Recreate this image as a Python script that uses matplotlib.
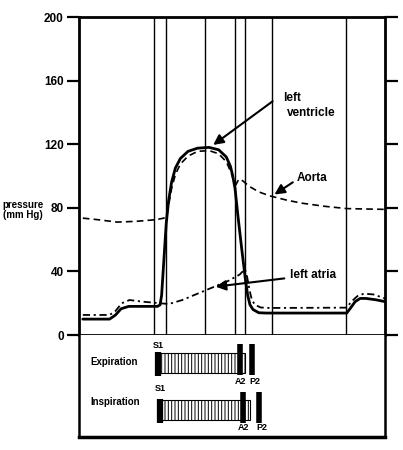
import numpy as np
import matplotlib
matplotlib.use("Agg")
from matplotlib import pyplot as plt
from matplotlib.patches import Rectangle

plt.rcParams['font.family'] = ['Liberation Sans', 'DejaVu Sans']
plt.rcParams['font.weight'] = 'bold'

# time axis (ms) over one cardiac cycle, pressures in mm Hg
lv_t = [10, 80, 95, 110, 130, 205, 212, 216, 220, 224, 228, 234, 242, 252, 265, 285,
        310, 340, 365, 385, 396, 402, 408, 415, 425, 435, 441, 447, 455, 470, 490,
        700, 710, 722, 735, 750, 775, 800]
lv_p = [10, 10, 12.5, 16.5, 18, 18, 19, 25, 40, 55, 70, 84, 96, 105, 111, 115.5,
        117.5, 118, 116.5, 112, 106, 100, 92, 76, 55, 35, 25, 19, 16, 14, 13.8,
        13.8, 17, 21, 23, 23, 22.2, 21]

ao_t = [10, 50, 100, 150, 200, 222, 230, 236, 242, 252, 265, 285, 310, 340, 365,
        385, 398, 405, 410, 418, 428, 445, 470, 499, 540, 580, 640, 700, 800]
ao_p = [73.5, 72.5, 71, 71.5, 72.5, 73.5, 76, 84, 92, 101, 107.5, 112.5, 115.5, 116,
        114, 109, 102, 96.5, 94.5, 98, 97, 93.5, 90, 87.5, 85, 83, 81, 79.5, 79]

la_t = [10, 80, 95, 112, 132, 165, 210, 235, 270, 310, 350, 390, 420, 434, 440,
        446, 452, 460, 475, 500, 700, 712, 728, 745, 770, 800]
la_p = [12.6, 12.6, 15, 20, 22, 21, 20, 19.5, 22, 26, 30, 34, 38, 41.5, 36,
        28, 22, 19, 17.3, 17, 17.2, 21, 24.5, 26, 25.5, 23]

# vertical event lines (ms)
events = [196, 227, 329, 408, 434, 505, 698]

# heart sounds (ms): expiration / inspiration
exp_s1, exp_a2, exp_p2, exp_end = 207, 421, 452, 434
insp_s1, insp_a2, insp_p2, insp_end = 212, 429, 471, 447

yticks = [0, 40, 80, 120, 160, 200]

W, H = 403, 450
fig = plt.figure(figsize=(W / 100, H / 100), dpi=100)
fig.patch.set_facecolor('white')

ax = fig.add_axes([79 / W, (H - 335) / H, 306 / W, 318 / H])
ax.set_xlim(0, 800)
ax.set_ylim(0, 200)
for s in ax.spines.values():
    s.set_linewidth(2)
ax.set_xticks([])
ax.set_yticks(yticks)
ax.set_yticklabels([str(v) for v in yticks], fontsize=8.5, fontweight='bold')
ax.tick_params(axis='y', which='both', direction='out', length=9, width=1.6,
               right=True, pad=2)

for e in events:
    ax.axvline(e, color='black', lw=1.0)

ax.plot(lv_t, lv_p, color='black', lw=2.0, solid_capstyle='round')
ax.plot(ao_t, ao_p, color='black', lw=1.2, linestyle=(0, (4, 2.5)))
ax.plot(la_t, la_p, color='black', lw=1.3, linestyle=(0, (4, 2, 1.2, 2)))

lab = dict(fontsize=8.5, fontweight='bold', va='center', ha='left')
ax.text(533, 149, 'left', **lab)
ax.text(544, 139.6, 'ventricle', **lab)
ax.text(570, 98.7, 'Aorta', **lab)
ax.text(552, 37.7, 'left atria', **lab)
arr = dict(arrowstyle='-|>,head_length=0.6,head_width=0.3', color='black', lw=1.5)
ax.annotate('', xy=(345, 118.5), xytext=(512, 148), arrowprops=arr)
ax.annotate('', xy=(505, 87.4), xytext=(565, 97), arrowprops=arr)
ax.annotate('', xy=(350, 30.2), xytext=(544, 35.8), arrowprops=arr)

fig.text(23 / W, 1 - 210 / H, 'pressure\n(mm Hg)', fontsize=7, fontweight='bold',
         ha='center', va='center', linespacing=1.0)

# phonocardiogram box
bx = fig.add_axes([79 / W, (H - 437) / H, 306 / W, 102 / H])
bx.set_xlim(0, 800)
bx.set_ylim(0, 100)
bx.set_xticks([])
bx.set_yticks([])
for s in bx.spines.values():
    s.set_linewidth(1.8)
bx.spines['bottom'].set_linewidth(2.5)
bx.spines['top'].set_visible(False)


def sounds(s1, a2, p2, end, ybar, ybox, ylab_top, ylab_bot):
    bx.add_patch(Rectangle((s1, ybox[0]), end - s1, ybox[1] - ybox[0],
                           facecolor='white', edgecolor='black', lw=0.8,
                           hatch='|||||'))
    bx.plot([s1, s1], [ybox[0] - 3, ybox[1] + 1], color='black', lw=4.5,
            solid_capstyle='butt')
    for t in (a2, p2):
        bx.plot([t, t], ybar, color='black', lw=4.0, solid_capstyle='butt')
    bx.text(s1, ylab_top, 'S1', fontsize=6.5, fontweight='bold', ha='center', va='center')
    bx.text(a2, ylab_bot, 'A2', fontsize=6.5, fontweight='bold', ha='center', va='center')
    bx.text(p2 + 8, ylab_bot, 'P2', fontsize=6.5, fontweight='bold', ha='center', va='center')


plt.rcParams['hatch.linewidth'] = 0.7
sounds(exp_s1, exp_a2, exp_p2, exp_end, (60.8, 91.2), (62.7, 82.4), 90, 54)
sounds(insp_s1, insp_a2, insp_p2, insp_end, (13.7, 44.1), (16.7, 36.3), 48, 9)
bx.text(29, 73.5, 'Expiration', fontsize=7, fontweight='bold', va='center')
bx.text(29, 34.3, 'Inspiration', fontsize=7, fontweight='bold', va='center')

fig.savefig('out.png', dpi=100, facecolor='white')
